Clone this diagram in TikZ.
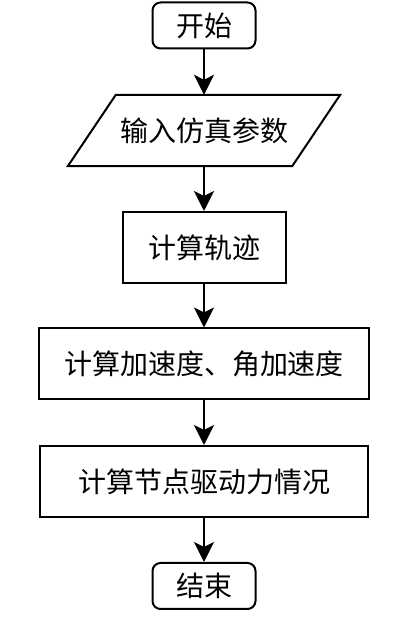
\documentclass[tikz,border=0pt]{standalone}
\usepackage{fontspec}
\setmainfont{Noto Sans CJK SC}
\usetikzlibrary{arrows.meta}
\tikzset{
  terminal/.style={draw,line width=2pt,rounded corners=8pt,minimum width=103pt,minimum height=46pt,inner sep=0pt},
  iobox/.style={minimum width=272pt,minimum height=71pt,inner sep=0pt},
  procbox/.style={draw,line width=2pt,minimum height=71pt,inner sep=0pt},
  flow/.style={line width=2pt,-{Stealth[length=20pt,width=20pt,inset=5pt]}}
}
\begin{document}
\begin{tikzpicture}[x=1pt,y=1pt,font=\fontsize{28}{32}\selectfont]
\useasboundingbox (0,0) rectangle (403,619);
\node[terminal] (start) at (204,593.5) {开始};
\node[iobox] (input) at (204,488.5) {输入仿真参数};
\draw[line width=2pt,line join=miter] ([xshift=48pt]input.north west) -- (input.north east)
  -- ([xshift=-48pt]input.south east) -- (input.south west) -- cycle;
\node[procbox,minimum width=163pt] (traj) at (204,371.5) {计算轨迹};
\node[procbox,minimum width=330pt] (accel) at (204,255) {计算加速度、角加速度};
\node[procbox,minimum width=328pt] (force) at (204,137.5) {计算节点驱动力情况};
\node[terminal] (stop) at (204,33) {结束};

\draw[flow] (start) -- (input);
\draw[flow] (input) -- (traj);
\draw[flow] (traj) -- (accel);
\draw[flow] (accel) -- (force);
\draw[flow] (force) -- (stop);
\end{tikzpicture}
\end{document}
